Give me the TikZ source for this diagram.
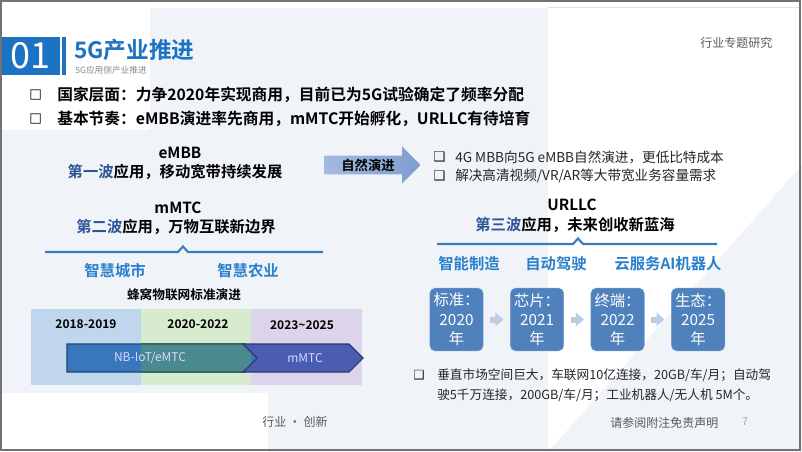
\documentclass[tikz,border=0pt]{standalone}
\usepackage{fontspec}
\setmainfont{Noto Sans CJK SC}[BoldFont={Noto Sans CJK SC Bold}]
\newfontfamily\symfont{DejaVu Sans}
\usepackage{tikz}
\usetikzlibrary{positioning,arrows.meta,shapes.arrows,shapes.symbols}
\definecolor{headblue}{HTML}{1C73C4}
\definecolor{wavedark}{HTML}{2F5597}
\definecolor{fieldblue}{HTML}{2A80CC}
\definecolor{lineblue}{HTML}{3B7CBF}
\definecolor{boxblue}{HTML}{4F81BD}
\definecolor{paleback}{HTML}{F0F4F9}
\definecolor{textgray}{HTML}{595959}
\definecolor{periodblue}{HTML}{BFD6EC}
\definecolor{periodgreen}{HTML}{D7EBCE}
\definecolor{periodviolet}{HTML}{DCD4EA}
\definecolor{nbblue}{HTML}{3877BC}
\definecolor{nbteal}{HTML}{4A8A8E}
\definecolor{mmtcblue}{HTML}{4A5DB3}
\definecolor{evolvelight}{HTML}{A3BAE0}
\definecolor{evolvedark}{HTML}{7F9DD0}

\begin{document}
\begin{tikzpicture}[x=0.75pt,y=-0.75pt,
        media/.style={inner sep=0pt, anchor=center},
        bullet/.style={media, anchor=west, font={\fontsize{11.8}{14}\selectfont\bfseries}},
        sidenote/.style={media, anchor=west, text=black!85, font={\fontsize{10.2}{13}\selectfont}},
        wave/.style={media, font={\fontsize{11.5}{14}\selectfont\bfseries}},
        field/.style={media, text=fieldblue, font={\fontsize{11.5}{14}\selectfont\bfseries}},
        period/.style={media, font={\fontsize{9}{11}\selectfont\bfseries}},
        chevron/.style={signal, signal to=east, signal pointer angle=90,
            minimum height=21pt, inner sep=0pt, line width=0.8pt},
        yearbox/.style={draw=boxblue!80!white, fill=boxblue, rounded corners=4pt,
            minimum width=40pt, minimum height=47pt, inner sep=0pt, align=center,
            text=white, font={\fontsize{11.5}{14.5}\selectfont}},
        steparrow/.style={draw=boxblue!40!white, line width=4.5pt,
            -{Triangle[length=6pt,width=10pt]}, shorten <=5pt, shorten >=5pt},
        ]
        % background
        \fill[white] (0,0) rectangle (802,452);
        \fill[paleback] (150,8) -- (548,8) -- (548,452) -- (0,452) -- (0,130) -- (150,130) -- cycle;
        \fill[paleback] (548,452) -- (802,165) -- (802,452) -- cycle;
        \fill[white] (0,393) rectangle (268,452);
        \draw[black!12] (548,7) -- (800,7);

        % header
        \fill[headblue] (0,37) rectangle (60,75);
        \node[media, text=white, font={\fontsize{27}{27}\selectfont}] (num) at (30,56) {01};
        \fill[headblue] (62,37) rectangle (65.5,75);
        \node[media, anchor=west, text=headblue, font={\fontsize{17}{20}\selectfont\bfseries}] (title) at (74,50) {5G产业推进};
        \node[media, anchor=west, text=black!45, font={\fontsize{6.5}{8}\selectfont}] (subtitle) at (75,70) {5G应用侧产业推进};
        \node[media, anchor=west, text=textgray, font={\fontsize{9}{11}\selectfont}] (series) at (700,43) {行业专题研究};

        % main bullets
        \node[bullet, font={\fontsize{10}{12}\selectfont\symfont\bfseries}] (b1) at (29,95) {□};
        \node[bullet] (line1) at (57,95) {国家层面：力争2020年实现商用，目前已为5G试验确定了频率分配};
        \node[bullet, font={\fontsize{10}{12}\selectfont\symfont\bfseries}] (b2) at (29,119) {□};
        \node[bullet] (line2) at (57,119) {基本节奏：eMBB演进率先商用，mMTC开始孵化，URLLC有待培育};

        % eMBB and mMTC
        \node[wave] (embb) at (180,153) {eMBB};
        \node[wave] (wave1) at (175,172) {\color{wavedark}第一波\color{black}应用，移动宽带持续发展};
        \node[wave] (mmtc) at (178,208) {mMTC};
        \node[wave] (wave2) at (176,227) {\color{wavedark}第二波\color{black}应用，万物互联新边界};
        \draw[lineblue, line width=1.6pt] (45,252) -- (178,252) -- (183,246.5) -- (188,252) -- (323,252);
        \node[field] (city) at (115,271) {智慧城市};
        \node[field] (farm) at (248,271) {智慧农业};
        \node[media, font={\fontsize{9.5}{11}\selectfont\bfseries}] (iotstd) at (184,295) {蜂窝物联网标准演进};

        % timeline
        \fill[periodblue] (31,309) rectangle (141,385);
        \fill[periodgreen] (141,309) rectangle (251,385);
        \fill[periodviolet] (251,309) rectangle (362,385);
        \node[chevron, draw=nbblue!60!black, fill=nbblue, minimum width=144pt] (nbiot) at (156,358) {};
        \begin{scope}
            \clip (141,309) rectangle (251,385);
            \node[chevron, draw=nbteal!60!black, fill=nbteal, minimum width=144pt] (nbiotmid) at (156,358) {};
        \end{scope}
        \node[chevron, signal from=west, draw=mmtcblue!60!black, fill=mmtcblue,
            minimum width=90pt] (mmtcarrow) at (303,358) {};
        \node[media, text=white!85!blue, font={\fontsize{9}{11}\selectfont}] (nblabel) at (150,358) {NB-IoT/eMTC};
        \node[media, text=white!85!blue, font={\fontsize{9}{11}\selectfont}] (mlabel) at (305,358) {mMTC};
        \node[period] (p1) at (86,324) {2018-2019};
        \node[period] (p2) at (198,324) {2020-2022};
        \node[period] (p3) at (302,325) {2023\textasciitilde 2025};
        \node[media, anchor=west, text=textgray, font={\fontsize{9}{11}\selectfont}] (motto) at (262,422) {行业 · 创新};

        % natural evolution arrow
        \node[single arrow, left color=evolvelight, right color=evolvedark,
            single arrow head extend=7pt, minimum height=72pt, minimum width=22pt, inner sep=2pt,
            font={\fontsize{10}{12}\selectfont\bfseries}] (evolve) at (368,165) {自然演进};
        \node[sidenote] (s1) at (433,157) {\symfont ❑};
        \node[sidenote] (sidetext1) at (455,157) {4G MBB向5G eMBB自然演进，更低比特成本};
        \node[sidenote] (s2) at (433,176) {\symfont ❑};
        \node[sidenote] (sidetext2) at (455,176) {解决高清视频/VR/AR等大带宽业务容量需求};

        % URLLC
        \node[wave] (urllc) at (572,205) {URLLC};
        \node[wave] (wave3) at (575,225) {\color{wavedark}第三波\color{black}应用，未来创收新蓝海};
        \draw[lineblue, line width=1.6pt] (437,244) -- (573,244) -- (578,238.5) -- (583,244) -- (717,244);
        \node[field] (factory) at (469,264) {智能制造};
        \node[field] (drive) at (556,264) {自动驾驶};
        \node[field] (cloud) at (668,264) {云服务AI机器人};

        % year boxes
        \node[yearbox] (std) at (456.5,319.5) {标准：\\2020\\年};
        \node[yearbox, right=20pt of std] (chip) {芯片：\\2021\\年};
        \node[yearbox, right=20pt of chip] (device) {终端：\\2022\\年};
        \node[yearbox, right=20pt of device] (eco) {生态：\\2025\\年};
        \draw[steparrow] (std) -- (chip);
        \draw[steparrow] (chip) -- (device);
        \draw[steparrow] (device) -- (eco);

        % vertical market note
        \node[sidenote, font={\fontsize{9.5}{12}\selectfont}] (s3) at (413,375) {\symfont ❑};
        \node[sidenote, font={\fontsize{9.5}{12}\selectfont}] (market1) at (437,375) {垂直市场空间巨大，车联网10亿连接，20GB/车/月；自动驾};
        \node[sidenote, font={\fontsize{9.5}{12}\selectfont}] (market2) at (437,395) {驶5千万连接，200GB/车/月；工业机器人/无人机 5M个。};

        % footer
        \node[media, anchor=west, text=textgray, font={\fontsize{9}{11}\selectfont}] (disclaimer) at (610,423) {请参阅附注免责声明};
        \node[media, text=black!35, font={\fontsize{8}{10}\selectfont}] (page) at (745,422) {7};

        % frame
        \draw[black!55, line width=1pt] (1,1) rectangle (800,450);
    \end{tikzpicture}
\end{document}
